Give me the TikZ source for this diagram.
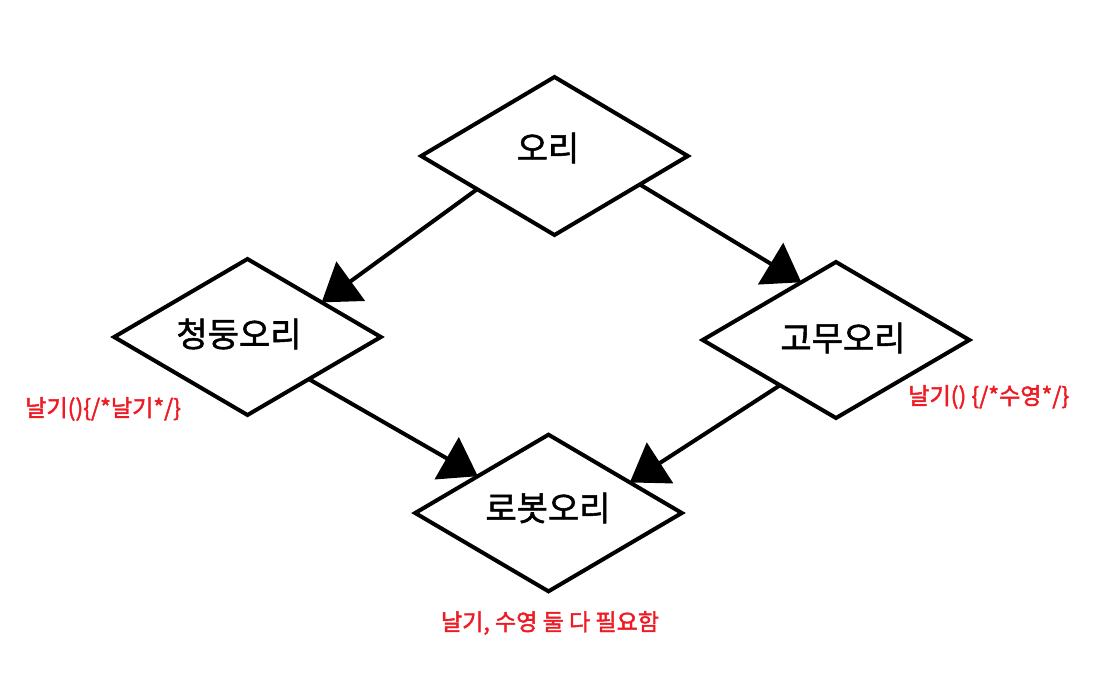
\documentclass[tikz,border=0pt]{standalone}
\usepackage{fontspec}
\setmainfont{Noto Sans CJK KR}
\newfontfamily\duckfont[FakeBold=1.6]{Noto Sans CJK KR}
\newfontfamily\notefont[FakeBold=2]{Noto Sans CJK KR}
\usetikzlibrary{shapes.geometric,arrows.meta,calc}
\definecolor{paintred}{RGB}{237,28,36}
\tikzset{
  duckbox/.style={shape=diamond, draw=black, line width=3pt, inner sep=0pt, outer sep=0pt, minimum width=200pt},
  ducktext/.style={font=\duckfont\fontsize{25.5}{28}\selectfont, inner sep=0pt},
  note/.style={font=\notefont\fontsize{17.3}{20}\selectfont, text=paintred, inner sep=0pt},
  inherit/.style={line width=3pt, -{Triangle[length=27pt,width=36pt]}},
}
\begin{document}
\begin{tikzpicture}[x=0.75pt,y=-0.75pt]
\useasboundingbox (0,0) rectangle (1112,688);
\node[duckbox, minimum height=118.5pt] (duck) at (554.5,156) {};
\node[duckbox, minimum height=117pt] (mallard) at (247.5,337) {};
\node[duckbox, minimum height=117pt] (rubber) at (836,340) {};
\node[duckbox, minimum height=117.5pt] (robot) at (548.5,513) {};
\node[ducktext] (tduck) at (548,148) {오리};
\node[ducktext] (tmallard) at (239,334) {청둥오리};
\node[ducktext] (trubber) at (843,338) {고무오리};
\node[ducktext] (trobot) at (548,508) {로봇오리};
\node[note, anchor=west] (n1) at (25,409) {날기()\{/*날기*/\}};
\node[note, anchor=west] (n2) at (908,397) {날기() \{/*수영*/\}};
\node[note] (n3) at (550,623) {날기, 수영 둘 다 필요함};
\draw[inherit] ($(duck.west)!0.42!(duck.south)$) -- ($(mallard.north)!0.556!(mallard.east)$);
\draw[inherit] ($(duck.east)!0.36!(duck.south)$) -- ($(rubber.west)!0.74!(rubber.north)$);
\draw[inherit] ($(mallard.east)!0.54!(mallard.south)$) -- ($(robot.west)!0.47!(robot.north)$);
\draw[inherit] ($(rubber.west)!0.58!(rubber.south)$) -- ($(robot.north)!0.61!(robot.east)$);
\end{tikzpicture}
\end{document}
